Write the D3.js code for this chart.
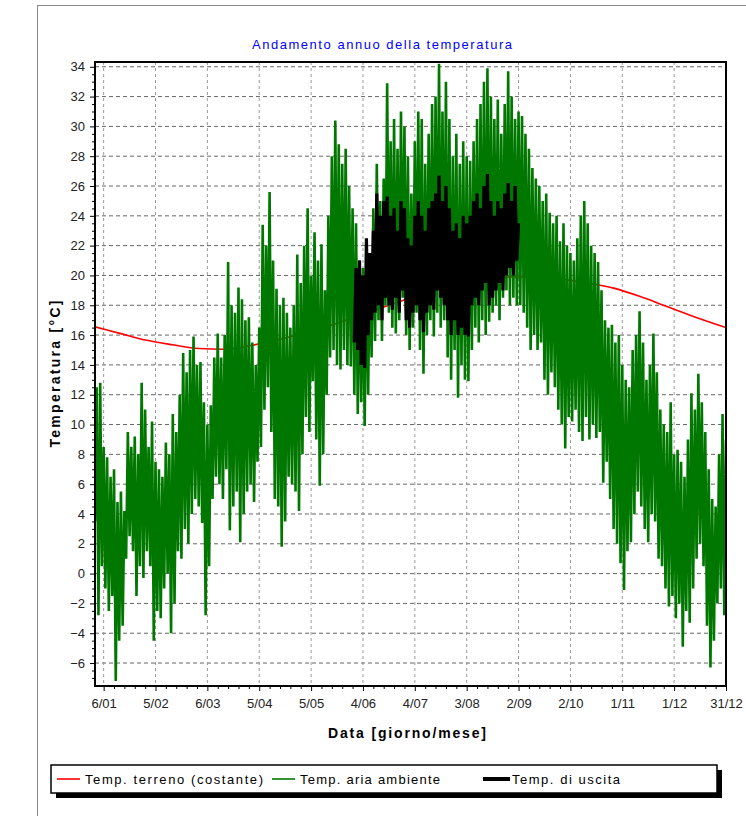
<!DOCTYPE html>
<html>
<head>
<meta charset="utf-8">
<script src="https://d3js.org/d3.v7.min.js"></script>
<style>
  body { margin: 0; background: #fff; }
  text { font-family: "Liberation Sans", Arial, sans-serif; }
</style>
</head>
<body>
<div id="chart"></div>
<script>
// x axis: days of the year, labels at every 30 days
var xTickDays = [5, 35, 65, 95, 125, 155, 185, 215, 245, 275, 305, 335, 365];
var xTickLabels = ["6/01", "5/02", "6/03", "5/04", "5/05", "4/06", "4/07", "3/08", "2/09", "2/10", "1/11", "1/12", "31/12"];
var yTicks = [-6, -4, -2, 0, 2, 4, 6, 8, 10, 12, 14, 16, 18, 20, 22, 24, 26, 28, 30, 32, 34];

// Temp. terreno (costante)
var groundDays = [0, 15, 30, 45, 60, 75, 90, 105, 120, 135, 150, 165, 180, 195, 210, 225, 240, 255, 270, 285, 300, 315, 330, 345, 365];
var groundTemp = [16.55, 16.1, 15.65, 15.35, 15.1, 15.05, 15.3, 15.65, 16.1, 16.6, 17.2, 17.8, 18.4, 19.0, 19.5, 19.8, 19.9, 19.9, 19.75, 19.5, 19.15, 18.6, 17.95, 17.3, 16.5];

// Temp. aria ambiente: low / high every 2 days, from day 0
var airStart = 0;
var airHigh = [
  12.5, 12.8, 8.5, 7.8, 6.5, 7.0, 4.8, 5.5, 4.2, 9.5,
  8.5, 9.2, 8.0, 12.8, 11.0, 8.5, 10.2, 7.5, 7.0, 6.5,
  8.8, 8.0, 10.7, 9.5, 12.0, 14.8, 13.5, 15.0, 15.9, 14.0,
  14.2, 11.5, 10.0, 11.3, 14.5, 16.1, 14.5, 16.0, 20.9, 18.0,
  17.5, 19.2, 18.4, 17.0, 17.2, 15.5, 14.0, 16.5, 23.4, 22.0,
  25.6, 21.0, 19.1, 18.0, 18.5, 17.5, 16.5, 18.0, 21.4, 19.5,
  22.0, 24.5, 20.0, 22.9, 21.0, 22.1, 19.0, 24.0, 28.0, 30.4,
  28.8, 27.5, 28.5, 26.0, 24.5, 23.5, 21.0, 20.5, 22.0, 21.5,
  24.5, 27.5, 25.0, 26.5, 32.9, 29.0, 30.5, 28.5, 31.0, 30.0,
  28.0, 25.5, 29.0, 31.0, 30.5, 27.5, 29.5, 31.5, 32.0, 34.2,
  31.0, 33.0, 30.5, 28.0, 29.5, 27.5, 29.0, 28.0, 27.7, 29.0,
  30.5, 31.5, 33.0, 33.9, 32.0, 30.5, 31.8, 29.5, 31.5, 33.7,
  32.0, 30.5, 31.0, 30.7, 29.5, 28.5, 27.2, 26.5, 26.0, 25.0,
  25.5, 24.2, 23.5, 24.0, 22.3, 23.5, 22.0, 21.5, 21.0, 22.5,
  24.0, 25.0, 23.5, 22.0, 21.5, 20.9, 19.0, 17.0, 16.5, 16.7,
  15.5, 16.0, 14.0, 13.0, 12.5, 15.0, 16.0, 17.6, 15.5, 13.0,
  14.0, 16.1, 13.5, 11.0, 10.0, 9.5, 11.5, 8.0, 8.3, 7.5,
  6.5, 9.0, 12.1, 11.0, 13.4, 11.5, 9.5, 7.0, 5.0, 4.5,
  8.0, 10.7, 9.0
];
var airLow = [
  3.5, -2.8, 0.5, -1.0, -2.5, -1.5, -7.2, -4.5, -3.5, 1.0,
  2.5, 1.5, -1.5, 0.5, -0.3, 1.5, 0.5, -4.5, -2.5, -3.0,
  -1.0, 0.0, -4.0, -2.0, 1.5, 1.0, 3.0, 2.0, 4.0, 5.0,
  4.5, 3.4, -2.8, 0.5, 5.0, 6.5, 6.0, 5.0, 7.0, 2.9,
  4.5, 5.5, 2.1, 4.0, 5.5, 6.0, 4.8, 7.5, 8.5, 11.0,
  12.5, 9.5, 5.0, 4.5, 1.8, 3.5, 6.5, 6.0, 5.5, 4.2,
  8.0, 10.5, 9.5, 12.9, 9.0, 5.9, 8.0, 12.0, 14.5, 15.0,
  14.0, 13.7, 15.0, 14.0, 13.9, 12.0, 10.7, 11.5, 9.9, 12.0,
  14.5, 15.6, 17.0, 15.6, 18.0, 17.5, 16.5, 16.1, 17.0, 18.5,
  16.0, 15.0, 16.5, 17.5, 15.0, 13.4, 16.0, 17.0, 15.9, 17.5,
  16.5, 17.0, 14.5, 13.0, 15.0, 11.8, 14.0, 13.0, 12.9, 15.0,
  16.5, 15.5, 17.0, 16.0, 16.9, 17.5, 18.0, 17.0, 18.5, 19.0,
  18.0, 18.5, 18.0, 18.0, 17.5, 16.5, 15.0, 16.0, 15.0, 15.5,
  13.0, 12.0, 13.5, 12.5, 11.0, 10.0, 8.4, 10.5, 10.2, 11.0,
  9.5, 8.9, 10.5, 9.0, 10.0, 9.1, 9.5, 6.1, 7.5, 5.0,
  3.0, 2.0, 0.7, -1.1, 1.5, 2.1, 4.0, 5.5, 4.5, 3.0,
  2.1, 4.0, 3.5, 1.0, 0.5, -1.0, -2.2, -1.5, -3.0, -2.0,
  -4.9, -2.5, -3.3, -1.0, 1.0, 2.0, 0.5, -3.5, -6.3, -4.5,
  -2.0, -1.0, -2.8
];

// Temp. di uscita: low / high every 2 days, from day 150
var outStart = 150;
var outHigh = [
  20.5, 21.0, 20.0, 22.5, 21.5, 23.0, 25.5, 24.0, 25.0, 25.3,
  24.0, 24.5, 23.0, 25.0, 24.5, 22.5, 22.0, 24.0, 25.0, 24.0,
  23.0, 24.5, 25.0, 25.5, 26.7, 25.0, 26.0, 24.5, 23.0, 23.5,
  22.5, 24.0, 23.5, 24.0, 25.0, 25.5, 24.5, 26.0, 26.8, 25.0,
  24.0, 25.0, 24.5, 25.5, 26.2, 25.0, 26.0, 23.5
];
var outLow = [
  15.5, 15.0, 14.0, 13.8, 16.0, 17.0, 17.5, 18.0, 17.0, 18.5,
  18.0, 17.7, 18.5, 17.5, 19.0, 17.0, 16.5, 17.5, 18.0, 17.0,
  16.2, 17.5, 18.0, 17.7, 19.0, 18.5, 18.0, 17.0, 16.0, 17.0,
  16.0, 16.5, 16.0, 15.9, 18.0, 18.5, 18.0, 19.0, 19.5, 18.0,
  18.5, 19.0, 19.5, 19.0, 20.0, 20.5, 20.0, 21.0
];

var width = 746, height = 816;
var plot = { left: 95, right: 726, top: 62, bottom: 686 };

var svg = d3.select('#chart').append('svg')
    .attr('width', width)
    .attr('height', height);

// outer frame
svg.append('rect')
    .attr('x', 37.5).attr('y', 5.5)
    .attr('width', 800).attr('height', 900)
    .attr('fill', 'none')
    .attr('stroke', '#8a8a8a');

var x = d3.scaleLinear().domain([0, 365]).range([plot.left, plot.right]);
var y = d3.scaleLinear().domain([-7.54, 34.32]).range([plot.bottom, plot.top]);

svg.append('clipPath').attr('id', 'clip')
  .append('rect')
    .attr('x', plot.left).attr('y', plot.top)
    .attr('width', plot.right - plot.left)
    .attr('height', plot.bottom - plot.top);

// grid
svg.append('g').selectAll('line')
    .data(yTicks)
    .enter().append('line')
    .attr('x1', plot.left).attr('x2', plot.right)
    .attr('y1', function(d) { return y(d); })
    .attr('y2', function(d) { return y(d); })
    .attr('stroke', '#666')
    .attr('stroke-dasharray', '4,3');

svg.append('g').selectAll('line')
    .data(xTickDays.slice(0, -1))
    .enter().append('line')
    .attr('y1', plot.top).attr('y2', plot.bottom)
    .attr('x1', function(d) { return x(d); })
    .attr('x2', function(d) { return x(d); })
    .attr('stroke', '#999')
    .attr('stroke-dasharray', '3,3');

// zigzag through low / high samples
function zigzag(start, lows, highs) {
    var pts = [];
    lows.forEach(function(lo, i) {
        pts.push([start + i * 2, lo]);
        pts.push([start + i * 2 + 1, highs[i]]);
    });
    return pts;
}

var line = d3.line()
    .x(function(d) { return x(d[0]); })
    .y(function(d) { return y(d[1]); });

var series = svg.append('g').attr('clip-path', 'url(#clip)');

series.append('path')
    .datum(groundDays.map(function(d, i) { return [d, groundTemp[i]]; }))
    .attr('d', line.curve(d3.curveMonotoneX))
    .attr('fill', 'none')
    .attr('stroke', '#ff0000')
    .attr('stroke-width', 1.6);

line.curve(d3.curveLinear);

series.append('path')
    .datum(zigzag(airStart, airLow, airHigh))
    .attr('d', line)
    .attr('fill', 'none')
    .attr('stroke', '#007800')
    .attr('stroke-width', 2.6)
    .attr('stroke-linejoin', 'miter');

series.append('path')
    .datum(zigzag(outStart, outLow, outHigh))
    .attr('d', line)
    .attr('fill', 'none')
    .attr('stroke', '#000')
    .attr('stroke-width', 3.2);

// axes
var minorX = [];
xTickDays.forEach(function(d) { for (var k = 1; k < 5; k++) { if (d - k * 6 > 0) minorX.push(d - k * 6); } });
var minorY = [];
yTicks.forEach(function(d) { minorY.push(d + 0.5, d + 1, d + 1.5); });
minorY.push(-6.5, -7);

svg.append('g')
    .attr('transform', 'translate(0,' + plot.bottom + ')')
    .call(d3.axisBottom(x).tickValues(minorX).tickSize(3).tickFormat(''))
    .call(function(g) { g.select('.domain').remove(); });

svg.append('g')
    .attr('transform', 'translate(' + plot.left + ',0)')
    .call(d3.axisLeft(y).tickValues(minorY.filter(function(d) { return d <= 34.3; })).tickSize(3).tickFormat(''))
    .call(function(g) { g.select('.domain').remove(); });

var xAxis = svg.append('g')
    .attr('transform', 'translate(0,' + plot.bottom + ')')
    .call(d3.axisBottom(x).tickValues(xTickDays)
        .tickFormat(function(d, i) { return xTickLabels[i]; })
        .tickSize(5).tickPadding(8));
xAxis.select('.domain').remove();
xAxis.selectAll('text').attr('font-size', 13).attr('fill', '#222');

var yAxis = svg.append('g')
    .attr('transform', 'translate(' + plot.left + ',0)')
    .call(d3.axisLeft(y).tickValues(yTicks).tickSize(5).tickPadding(5));
yAxis.select('.domain').remove();
yAxis.selectAll('text').attr('font-size', 13).attr('fill', '#222');

// plot border
svg.append('rect')
    .attr('x', plot.left).attr('y', plot.top)
    .attr('width', plot.right - plot.left)
    .attr('height', plot.bottom - plot.top)
    .attr('fill', 'none')
    .attr('stroke', '#000')
    .attr('stroke-width', 2);

// titles
svg.append('text')
    .attr('x', 382).attr('y', 49)
    .attr('text-anchor', 'middle')
    .attr('font-size', 13)
    .attr('fill', '#0000ff')
    .attr('textLength', 260)
    .text('Andamento annuo della temperatura');

svg.append('text')
    .attr('x', 407).attr('y', 738)
    .attr('text-anchor', 'middle')
    .attr('font-size', 14)
    .attr('font-weight', 'bold')
    .attr('textLength', 158)
    .text('Data [giorno/mese]');

svg.append('text')
    .attr('transform', 'translate(60,374) rotate(-90)')
    .attr('text-anchor', 'middle')
    .attr('font-size', 14)
    .attr('font-weight', 'bold')
    .attr('textLength', 147)
    .text('Temperatura [°C]');

// legend
var legend = svg.append('g');
legend.append('rect')
    .attr('x', 56).attr('y', 770)
    .attr('width', 666).attr('height', 28)
    .attr('fill', '#000');
legend.append('rect')
    .attr('x', 51).attr('y', 765)
    .attr('width', 666).attr('height', 28)
    .attr('fill', '#fff')
    .attr('stroke', '#000')
    .attr('stroke-width', 1.5);

var legendItems = [
    { name: 'Temp. terreno (costante)', color: '#ff0000', w: 1.6, x1: 57, x2: 80, tx: 85, tl: 178 },
    { name: 'Temp. aria ambiente', color: '#007800', w: 1.6, x1: 272, x2: 295, tx: 300, tl: 140 },
    { name: 'Temp. di uscita', color: '#000', w: 4, x1: 483, x2: 510, tx: 512, tl: 108 }
];
legendItems.forEach(function(d) {
    legend.append('line')
        .attr('x1', d.x1).attr('x2', d.x2)
        .attr('y1', 779).attr('y2', 779)
        .attr('stroke', d.color)
        .attr('stroke-width', d.w);
    legend.append('text')
        .attr('x', d.tx).attr('y', 784)
        .attr('font-size', 13)
        .attr('textLength', d.tl)
        .text(d.name);
});
</script>
</body>
</html>
